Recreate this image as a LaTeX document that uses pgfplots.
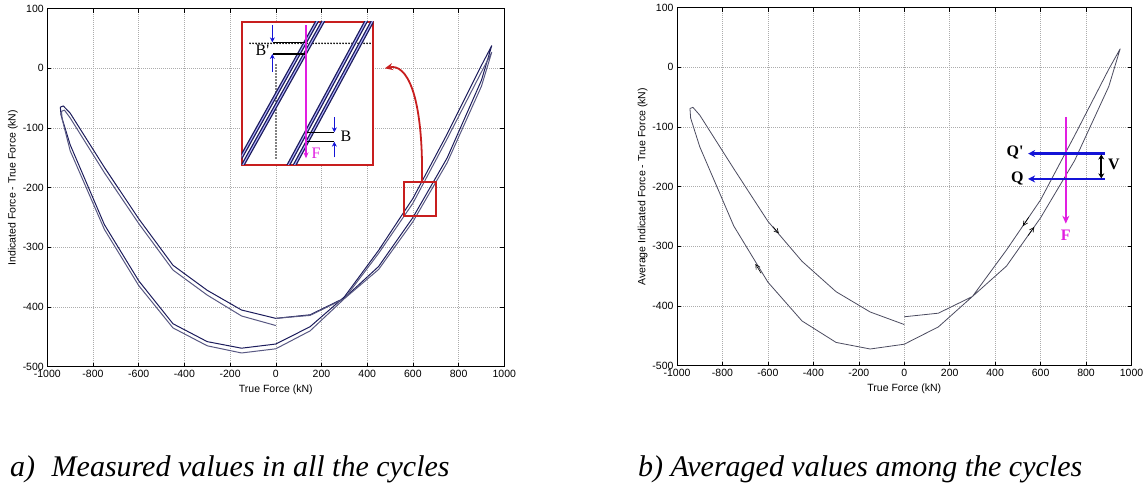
\documentclass[border=0pt]{standalone}
\usepackage{pgfplots}
\pgfplotsset{compat=1.18}
\usepackage{fontspec}
\setmainfont{Liberation Serif}
\newfontfamily\arialfont{Liberation Sans}
\usetikzlibrary{arrows.meta}
\definecolor{navyA}{RGB}{28,28,92}
\definecolor{navyB}{RGB}{88,88,130}
\definecolor{curveG}{RGB}{75,75,95}
\definecolor{qblue}{RGB}{20,20,215}
\definecolor{fmag}{RGB}{225,30,225}
\definecolor{boxred}{RGB}{200,30,30}
\pgfplotsset{
  matlab/.style={
    scale only axis,
    xmin=-1000, xmax=1000, ymin=-500, ymax=100,
    xtick={-1000,-800,...,1000},
    ytick={-500,-400,...,100},
    grid=major,
    major grid style={gray!65, dash pattern=on 0.8pt off 1.2pt, line width=0.5pt},
    tick align=inside,
    major tick length=4pt,
    axis line style={black, line width=0.7pt},
    tick style={black, line width=0.5pt},
    /pgf/number format/assume math mode=true,
    /pgf/number format/1000 sep={},
    tick label style={font=\arialfont\fontsize{10.5}{12}\selectfont},
    label style={font=\arialfont\fontsize{10.5}{12}\selectfont},
  }
}
\begin{document}
\begin{tikzpicture}
\useasboundingbox (0pt,0pt) rectangle (1147pt,486pt);

% ---------------- left chart ----------------
\begin{axis}[matlab, at={(47.3pt,119.3pt)}, anchor=south west, width=457pt, height=358pt,
  xlabel={True Force (kN)}, ylabel={Indicated Force - True Force (kN)},
  ylabel style={yshift=-2pt}]
\addplot[navyA, line width=1pt, line join=round] coordinates {
(0,-419)(150,-413)(300,-385)(450,-332)(600,-250)(750,-150)(900,-20)(945,38)
(900,5)(750,-110)(600,-218)(450,-305)(300,-383)(150,-433)(0,-462)
(-150,-469)(-300,-458)(-450,-428)(-600,-356)(-750,-262)(-900,-128)(-940,-78)(-943,-65)
(-930,-63)(-900,-75)(-750,-166)(-600,-252)(-450,-330)(-300,-372)(-150,-405)(0,-419)};
\addplot[navyB, line width=1pt, line join=round] coordinates {
(0,-419)(150,-414)(300,-386)(450,-337)(600,-257)(750,-158)(900,-30)(945,27)
(900,-6)(750,-118)(600,-226)(450,-310)(300,-386)(150,-440)(0,-470)
(-150,-477)(-300,-465)(-450,-435)(-600,-364)(-750,-270)(-900,-138)(-935,-85)(-938,-72)
(-925,-70)(-900,-83)(-750,-175)(-600,-260)(-450,-338)(-300,-380)(-150,-415)(0,-431)};
\draw[boxred, line width=2pt] (axis cs:561,-190) rectangle (axis cs:702,-247);
\draw[boxred, line width=1.8pt, -{Stealth[length=8pt,width=7pt]}] (axis cs:640,-189) .. controls (axis cs:645,-40) and (axis cs:570,8) .. (axis cs:477,0);
\end{axis}

% ---------------- inset ----------------
\begin{axis}[at={(241.7pt,321pt)}, anchor=south west, scale only axis, width=131.6pt, height=143.3pt,
  xmin=35, xmax=430, ymin=35, ymax=465, y dir=reverse, ticks=none,
  axis line style={boxred, line width=2.2pt}, axis background/.style={fill=white}]
\addplot[black, line width=1.8pt, dash pattern=on 0pt off 3pt, line cap=round] coordinates {(60,100)(428,100)};
\addplot[black, line width=1.8pt, dash pattern=on 0pt off 3pt, line cap=round] coordinates {(138,165)(138,445)};
\addplot[navyA, line width=1.3pt, double=blue!30!white, double distance=1pt] coordinates {(30,448)(270,18)};
\addplot[navyA, line width=1.3pt, double=blue!30!white, double distance=1pt] coordinates {(20,498)(290,15)};
\addplot[navyA, line width=1.3pt, double=blue!30!white, double distance=1pt] coordinates {(160,493)(420,12)};
\addplot[navyA, line width=1.3pt, double=blue!30!white, double distance=1pt] coordinates {(175,500)(445,1)};
\addplot[black, line width=1.4pt] coordinates {(130,97)(224,97)};
\addplot[black, line width=1.4pt] coordinates {(130,132)(224,132)};
\addplot[black, line width=1.4pt] coordinates {(230,367)(312,367)};
\addplot[black, line width=1.4pt] coordinates {(232,395)(312,395)};
\addplot[fmag, line width=1.8pt, -{Stealth[length=6pt,width=5pt]}] coordinates {(228,45)(228,445)};
\addplot[qblue, line width=1.5pt, -{Stealth[length=5pt,width=5pt]}] coordinates {(127,45)(127,97)};
\addplot[qblue, line width=1.5pt, -{Stealth[length=5pt,width=5pt]}] coordinates {(127,185)(127,132)};
\addplot[qblue, line width=1.5pt, -{Stealth[length=5pt,width=5pt]}] coordinates {(313,322)(313,367)};
\addplot[qblue, line width=1.5pt, -{Stealth[length=5pt,width=5pt]}] coordinates {(313,442)(313,395)};
\node[font=\fontsize{16}{16}\selectfont] at (axis cs:97,122) {B\textquotesingle};
\node[font=\fontsize{16}{16}\selectfont] at (axis cs:348,380) {B};
\node[font=\fontsize{16}{16}\selectfont, text=fmag] at (axis cs:258,430) {F};
\end{axis}

% ---------------- right chart ----------------
\begin{axis}[matlab, at={(677pt,120.3pt)}, anchor=south west, width=454.5pt, height=358pt,
  xlabel={True Force (kN)}, ylabel={Average Indicated Force - True Force (kN)},
  ylabel style={yshift=-2pt}]
\addplot[curveG, line width=0.8pt, line join=round] coordinates {
(0,-418)(150,-412)(300,-384)(450,-333)(600,-252)(750,-156)(900,-32)(950,31)
(900,-3)(750,-114)(600,-222)(450,-306)(300,-384)(150,-435)(0,-464)
(-150,-472)(-300,-461)(-450,-425)(-600,-360)(-750,-266)(-900,-133)(-940,-85)(-943,-69)
(-930,-67)(-900,-80)(-750,-170)(-600,-258)(-450,-325)(-300,-376)(-150,-410)(0,-431)};
% direction arrows on the loop
\addplot[black, line width=0.6pt, -{Straight Barb[length=4.5pt,width=4.5pt]}] coordinates {(-578,-266.8)(-552,-278.4)};
\addplot[black, line width=0.6pt, -{Straight Barb[length=4.5pt,width=4.5pt]}] coordinates {(-630,-345)(-655,-329.5)};
\addplot[black, line width=0.6pt, -{Straight Barb[length=4.5pt,width=4.5pt]}] coordinates {(548,-251)(522,-266)};
\addplot[black, line width=0.6pt, -{Straight Barb[length=4.5pt,width=4.5pt]}] coordinates {(545,-282)(572,-267.5)};
% Q, Q', V, F annotation
\addplot[fmag, line width=2.2pt, -{Stealth[length=8pt,width=7pt]}] coordinates {(711,-83)(711,-262)};
\addplot[qblue, line width=2.4pt, -{Stealth[length=7pt,width=7pt]}] coordinates {(882,-144.5)(545,-144.5)};
\addplot[qblue, line width=2.4pt, -{Stealth[length=7pt,width=7pt]}] coordinates {(882,-187)(545,-187)};
\addplot[black, line width=1.8pt, {Stealth[length=5pt,width=6pt]}-{Stealth[length=5pt,width=6pt]}] coordinates {(867,-146)(867,-186)};
\node[font=\bfseries\fontsize{16}{16}\selectfont, anchor=east] at (axis cs:540,-142) {Q\textquotesingle};
\node[font=\bfseries\fontsize{16}{16}\selectfont, anchor=east] at (axis cs:540,-186) {Q};
\node[font=\bfseries\fontsize{16}{16}\selectfont] at (axis cs:922,-163) {V};
\node[font=\bfseries\fontsize{16}{16}\selectfont, text=fmag] at (axis cs:711,-282) {F};
\end{axis}

% ---------------- captions ----------------
\node[anchor=base west, font=\itshape\fontsize{30}{36}\selectfont, inner sep=0pt] at (10pt,9pt) {a)\hspace{0.55em}Measured values in all the cycles};
\node[anchor=base west, font=\itshape\fontsize{30}{36}\selectfont, inner sep=0pt] at (638pt,9pt) {b) Averaged values among the cycles};
\end{tikzpicture}
\end{document}
